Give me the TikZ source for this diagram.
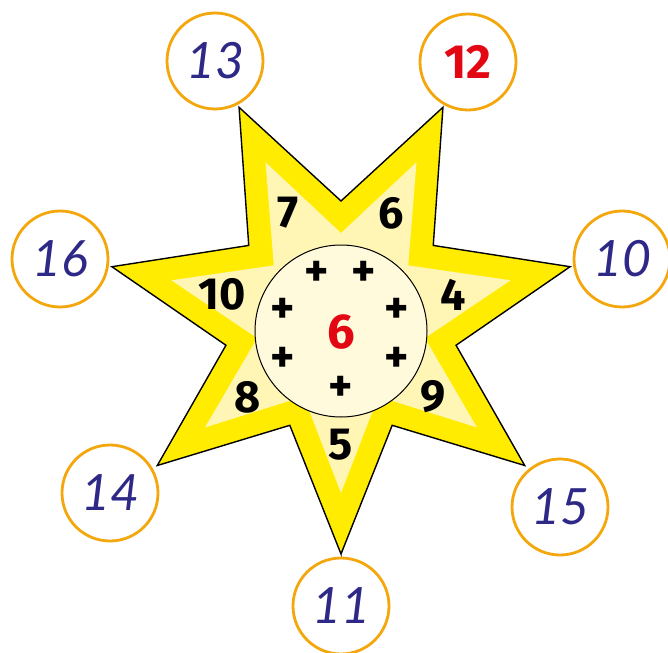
\documentclass[tikz,border=0pt]{standalone}
\usepackage{fontspec}
\newfontfamily\numfont{Fira Sans}
\newfontfamily\handfont{Lato}
\usepackage{xcolor}
\definecolor{staryellow}{HTML}{FFEC00}
\definecolor{starlight}{HTML}{FFF5B4}
\definecolor{discfill}{HTML}{FFFADC}
\definecolor{ringorange}{HTML}{F4A70C}
\definecolor{handblue}{HTML}{2E2886}
\definecolor{sumred}{HTML}{E30613}
\usepackage{tikz}
\usetikzlibrary{positioning}

\begin{document}
\begin{tikzpicture}[x=1pt, y=-1pt,
      answer/.style={circle, draw=ringorange, line width=2.8pt, fill=white,
                     minimum size=96pt, inner sep=0pt, text=handblue,
                     font=\handfont\itshape\fontsize{50}{50}\selectfont},
      given/.style={inner sep=0pt, font=\numfont\bfseries\fontsize{45}{45}\selectfont},
      plussign/.style={inner sep=0pt, font=\numfont\bfseries\fontsize{46}{46}\selectfont},
    ]
    \useasboundingbox (0,0) rectangle (668,652);

    % star, outer band and light inside
    \filldraw[fill=staryellow, draw=black, line width=1.4pt, line join=miter, shift={(341,319)}]
      (90:235) \foreach \k in {0,...,6} { -- (90+\k*360/7+180/7:118) -- (90+\k*360/7+360/7:235) } -- cycle;
    \fill[starlight, shift={(341,319)}]
      (90:174) \foreach \k in {0,...,6} { -- (90+\k*360/7+180/7:86) -- (90+\k*360/7+360/7:174) } -- cycle;
    \node[circle, draw=black, line width=1pt, fill=discfill, minimum size=172pt] (hub) at (341,331) {};

    % numbers on the star
    \node[given] (n7) at (288,213) {7};
    \node[given] (n6) at (391,213) {6};
    \node[given] (n4) at (453,295) {4};
    \node[given] (n9) at (433,397) {9};
    \node[given] (n5) at (341,445) {5};
    \node[given] (n8) at (248,397) {8};
    \node[given] (n10) at (222,294) {10};

    % plus signs and the number added
    \node[plussign] (p1) at (317,274) {+};
    \node[plussign] (p2) at (364,274) {+};
    \node[plussign] (p3) at (283,311) {+};
    \node[plussign] (p4) at (397,311) {+};
    \node[plussign] (p5) at (283,360) {+};
    \node[plussign] (p6) at (397,360) {+};
    \node[plussign] (p7) at (341,389) {+};
    \node[given, text=sumred, font=\numfont\bfseries\fontsize{49}{49}\selectfont] (add) at (341,332) {6};

    % answers round the star
    \node[answer] (a13) at (215,61) {13};
    \node[answer, text=sumred, font=\numfont\bfseries\fontsize{48}{48}\selectfont] (a12) at (468,62) {12};
    \node[answer] (a10) at (622,259) {10};
    \node[answer] (a15) at (560,507) {15};
    \node[answer] (a11) at (341,606) {11};
    \node[answer] (a14) at (110,493) {14};
    \node[answer] (a16) at (60,259) {16};
  \end{tikzpicture}
\end{document}
